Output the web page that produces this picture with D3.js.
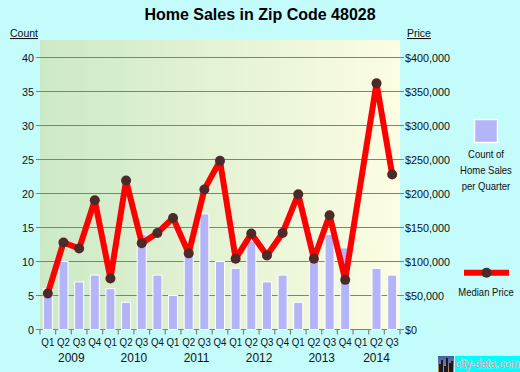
<!DOCTYPE html>
<html><head><meta charset="utf-8">
<script src="https://cdn.jsdelivr.net/npm/d3@7"></script>
<style>
html,body{margin:0;padding:0;background:#c4fcfc;}
svg{display:block;font-family:Arial,"Liberation Sans",sans-serif;}
</style></head>
<body>
<svg id="c" width="520" height="372"></svg>
<script>
const quarterLabels = ["Q1","Q2","Q3","Q4","Q1","Q2","Q3","Q4","Q1","Q2","Q3","Q4","Q1","Q2","Q3","Q4","Q1","Q2","Q3","Q4","Q1","Q2","Q3"];
const years = ["2009","2010","2011","2012","2013","2014"];
const counts = [6,10,7,8,6,4,14,8,5,11,17,10,9,13,7,8,4,10,14,12,0,9,8];
const prices = [53000,128000,119000,190000,75000,219000,127000,142000,164000,112000,206000,248000,104000,141000,109000,142000,199000,104000,168000,73000,null,362000,228000];
const countTicks = [0,5,10,15,20,25,30,35,40];
const priceTicks = [0,50000,100000,150000,200000,250000,300000,350000,400000];

const svg = d3.select("#c");
const L = 40, R = 400, T = 40, B = 329.5, YTOP = 57.5;
const idx = d3.range(quarterLabels.length);

const x = d3.scaleBand().domain(idx).range([L, R]).paddingInner(0).paddingOuter(0);
const yC = d3.scaleLinear().domain([0, 40]).range([B, YTOP]);
const yP = d3.scaleLinear().domain([0, 400000]).range([B, YTOP]);

function condense(sel, k) {
  sel.each(function () {
    const t = d3.select(this);
    const xx = +t.attr("x") || 0;
    t.attr("transform", `translate(${xx},0) scale(${k},1) translate(${-xx},0)`);
  });
}

const defs = svg.append("defs");
const g1 = defs.append("linearGradient").attr("id", "bg").attr("x1", "0").attr("x2", "1").attr("y1", "0").attr("y2", "0");
g1.append("stop").attr("offset", "0").attr("stop-color", "#cce9c5");
g1.append("stop").attr("offset", "1").attr("stop-color", "#fcfde2");
const g2 = defs.append("linearGradient").attr("id", "logo").attr("x1", "0").attr("x2", "0").attr("y1", "0").attr("y2", "1");
g2.append("stop").attr("offset", "0").attr("stop-color", "#3a5fb0");
g2.append("stop").attr("offset", "0.6").attr("stop-color", "#8a7a80");
g2.append("stop").attr("offset", "1").attr("stop-color", "#d09040");

svg.append("rect").attr("x", L).attr("y", T).attr("width", R - L).attr("height", B - T).attr("fill", "url(#bg)");

svg.append("text").attr("x", 260).attr("y", 20).attr("text-anchor", "middle")
  .attr("font-size", 16).attr("font-weight", "bold").attr("fill", "#000")
  .text("Home Sales in Zip Code 48028");

svg.append("g").selectAll("line").data(countTicks).join("line")
  .attr("x1", L - 4).attr("x2", R + 4)
  .attr("y1", d => yC(d)).attr("y2", d => yC(d))
  .attr("stroke", "#808080").attr("stroke-width", 1.2);

const leftAxis = svg.append("g").attr("transform", `translate(${L},0)`)
  .call(d3.axisLeft(yC).tickValues(countTicks).tickSize(0).tickPadding(6));
leftAxis.select(".domain").remove();
leftAxis.selectAll("text").attr("font-size", 11.6).attr("fill", "#111").attr("font-family", "Arial,Liberation Sans,sans-serif");
condense(leftAxis.selectAll("text"), 0.93);

const rightAxis = svg.append("g").attr("transform", `translate(${R},0)`)
  .call(d3.axisRight(yP).tickValues(priceTicks).tickSize(0).tickPadding(5)
    .tickFormat(d => "$" + d3.format(",")(d)));
rightAxis.select(".domain").remove();
rightAxis.selectAll("text").attr("font-size", 11.6).attr("fill", "#111").attr("font-family", "Arial,Liberation Sans,sans-serif");
condense(rightAxis.selectAll("text"), 0.93);

svg.append("text").attr("x", 10).attr("y", 37).attr("font-size", 10.5).attr("fill", "#111")
  .attr("text-decoration", "underline").text("Count");
svg.append("text").attr("x", 407).attr("y", 37).attr("font-size", 10.5).attr("fill", "#111")
  .attr("text-decoration", "underline").text("Price");

svg.append("g").selectAll("rect").data(idx.filter(i => counts[i] > 0)).join("rect")
  .attr("x", i => x(i) + x.bandwidth() / 2 - 4.5)
  .attr("width", 9)
  .attr("y", i => yC(counts[i]))
  .attr("height", i => yC(0) - yC(counts[i]))
  .attr("fill", "#b4b4f8").attr("stroke", "#ffffff").attr("stroke-width", 1);

const bounds = idx.map(i => x(i)).concat([R]);
svg.append("g").selectAll("line").data(bounds).join("line")
  .attr("x1", d => d).attr("x2", d => d).attr("y1", B).attr("y2", B + 5)
  .attr("stroke", "#808080").attr("stroke-width", 1.2);

const bottomAxis = svg.append("g").attr("transform", `translate(0,${B})`)
  .call(d3.axisBottom(x).tickSize(0).tickPadding(8).tickFormat(i => quarterLabels[i]));
bottomAxis.select(".domain").remove();
bottomAxis.selectAll("text").attr("font-size", 11.6).attr("fill", "#111").attr("font-family", "Arial,Liberation Sans,sans-serif");
condense(bottomAxis.selectAll("text"), 0.84);

svg.append("g").selectAll("text").data(years).join("text")
  .attr("x", (d, j) => {
    const qs = idx.filter(i => Math.floor(i / 4) === j);
    return (x(qs[0]) + x(qs[qs.length - 1]) + x.bandwidth()) / 2;
  })
  .attr("y", 362.5).attr("text-anchor", "middle").attr("font-size", 13).attr("fill", "#111")
  .text(d => d)
  .call(s => condense(s, 0.92));

const pts = idx.filter(i => prices[i] != null);
const line = d3.line().x(i => x(i) + x.bandwidth() / 2).y(i => yP(prices[i]));
svg.append("path").datum(pts).attr("d", line).attr("fill", "none")
  .attr("stroke", "#ff0000").attr("stroke-width", 6).attr("stroke-linejoin", "round");
svg.append("g").selectAll("circle").data(pts).join("circle")
  .attr("cx", i => x(i) + x.bandwidth() / 2).attr("cy", i => yP(prices[i])).attr("r", 5)
  .attr("fill", "#4d2a2a");

svg.append("rect").attr("x", 474.5).attr("y", 119.5).attr("width", 23).attr("height", 23)
  .attr("fill", "#b4b4f8").attr("stroke", "#ffffff").attr("stroke-width", 1.5);
const legTxt = svg.append("g").selectAll("text").data(["Count of", "Home Sales", "per Quarter"]).join("text")
  .attr("x", 486).attr("y", (d, i) => 158 + i * 16).attr("text-anchor", "middle")
  .attr("font-size", 11.6).attr("fill", "#111").text(d => d);
condense(legTxt, 0.82);
svg.append("line").attr("x1", 464).attr("x2", 509).attr("y1", 272.7).attr("y2", 272.7)
  .attr("stroke", "#ff0000").attr("stroke-width", 6);
svg.append("circle").attr("cx", 486.5).attr("cy", 272.7).attr("r", 5).attr("fill", "#4d2a2a");
svg.append("text").attr("x", 486).attr("y", 296).attr("text-anchor", "middle")
  .attr("font-size", 11.6).attr("fill", "#111").text("Median Price").call(s => condense(s, 0.82));

svg.append("rect").attr("x", 438).attr("y", 356).attr("width", 16).attr("height", 16).attr("fill", "url(#logo)");
const bld = [[439,364,2,8],[441,360,2,12],[444,366,2,6],[446,358,2,14],[449,363,2,9],[451,361,2,11]];
svg.append("g").selectAll("rect").data(bld).join("rect")
  .attr("x", d => d[0]).attr("y", d => d[1]).attr("width", d => d[2]).attr("height", d => d[3]).attr("fill", "#1a1a22");
svg.append("rect").attr("x", 455).attr("y", 356).attr("width", 65).attr("height", 16).attr("fill", "#00fcfc");
svg.append("text").attr("x", 487.5).attr("y", 368.5).attr("text-anchor", "middle").attr("font-size", 12)
  .attr("fill", "#a0a0a0").attr("stroke", "#ffffff").attr("stroke-width", 0.6).attr("paint-order", "stroke")
  .text("city-data.com").call(s => condense(s, 0.9));
</script>
</body></html>
